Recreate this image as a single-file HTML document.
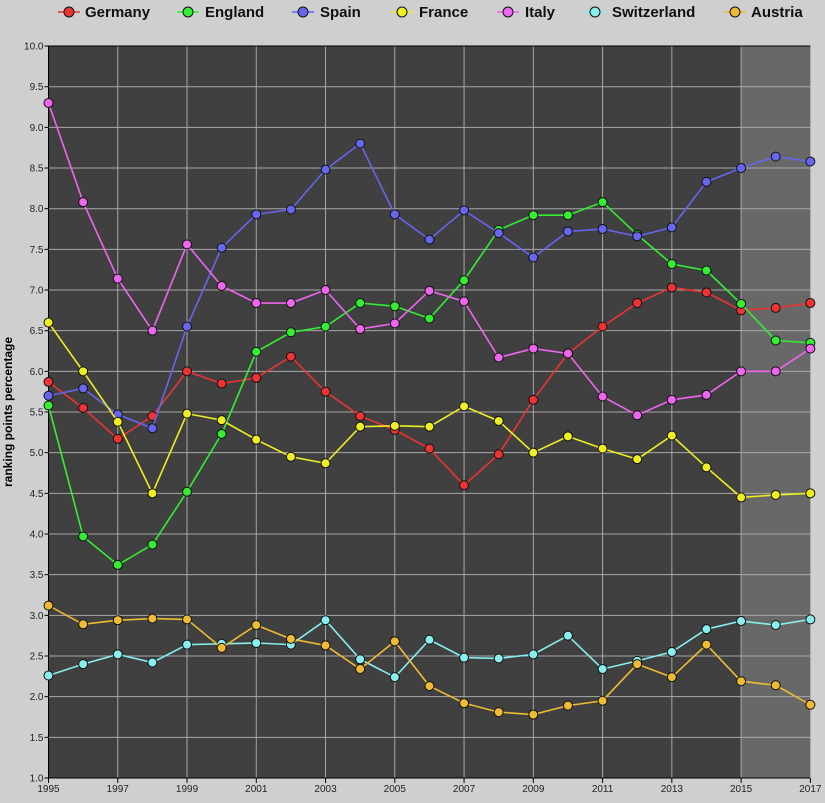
<!DOCTYPE html>
<html><head><meta charset="utf-8"><style>
html,body{margin:0;padding:0;background:#cfcfcf;}
svg{display:block;font-family:"Liberation Sans",sans-serif;}
</style></head><body>
<svg id="c" width="825" height="803" xmlns="http://www.w3.org/2000/svg"></svg>
<script>
const s=document.getElementById('c');
const X0=48.5,DX=34.63,YB=778,DY=81.33;
const xp=i=>X0+i*DX, yp=v=>YB-(v-1)*DY;
let h='';
h+=`<rect x="${X0}" y="46" width="${xp(20)-X0}" height="${YB-46}" fill="#404040"/>`;
h+=`<rect x="${xp(20)}" y="46" width="${xp(22)-xp(20)}" height="${YB-46}" fill="#686868"/>`;
for(let v=1.5;v<=10.01;v+=0.5){h+=`<line x1="${X0}" x2="${xp(22)}" y1="${yp(v)}" y2="${yp(v)}" stroke="#a8a8a8" stroke-width="1"/>`;}
for(let i=2;i<=20;i+=2){h+=`<line x1="${xp(i)}" x2="${xp(i)}" y1="46" y2="${YB}" stroke="#a8a8a8" stroke-width="1"/>`;}
h+=`<line x1="${X0}" x2="${X0}" y1="46" y2="${YB}" stroke="#000"/>`;
h+=`<line x1="${X0}" x2="${xp(22)}" y1="${YB}" y2="${YB}" stroke="#000"/>`;
h+=`<line x1="${X0}" x2="${xp(22)}" y1="46" y2="46" stroke="#000"/>`;
for(let v=1;v<=10.01;v+=0.5){h+=`<line x1="${X0-4}" x2="${X0}" y1="${yp(v)}" y2="${yp(v)}" stroke="#000"/><text x="${X0-5}" y="${yp(v)+3.5}" font-size="10" text-anchor="end" fill="#222">${v.toFixed(1)}</text>`;}
for(let i=0;i<=22;i+=2){h+=`<line x1="${xp(i)}" x2="${xp(i)}" y1="${YB}" y2="${YB+5}" stroke="#000"/><text x="${xp(i)}" y="${YB+14}" font-size="10" text-anchor="middle" fill="#222">${1995+i}</text>`;}
h+=`<text transform="translate(12,412) rotate(-90)" font-size="12" font-weight="bold" text-anchor="middle" fill="#000">ranking points percentage</text>`;
const D=[
["Germany","#ee3333",[5.87,5.55,5.17,5.45,6.0,5.85,5.92,6.18,5.75,5.45,5.28,5.05,4.6,4.98,5.65,6.22,6.55,6.84,7.03,6.97,6.75,6.78,6.84],69,85],
["England","#33ee33",[5.58,3.97,3.62,3.87,4.52,5.23,6.24,6.48,6.55,6.84,6.8,6.65,7.12,7.74,7.92,7.92,8.08,7.68,7.32,7.24,6.83,6.38,6.35],188,205],
["Spain","#6666ee",[5.7,5.79,5.47,5.3,6.55,7.52,7.93,7.99,8.48,8.8,7.93,7.62,7.98,7.7,7.4,7.72,7.75,7.66,7.77,8.33,8.5,8.64,8.58],303,320],
["France","#eeee22",[6.6,6.0,5.38,4.5,5.48,5.4,5.16,4.95,4.87,5.32,5.33,5.32,5.57,5.39,5.0,5.2,5.05,4.92,5.21,4.82,4.45,4.48,4.5],402,419],
["Italy","#ee66ee",[9.3,8.08,7.14,6.5,7.56,7.05,6.84,6.84,7.0,6.52,6.59,6.99,6.86,6.17,6.28,6.22,5.69,5.46,5.65,5.71,6.0,6.0,6.28],508,525],
["Switzerland","#88eeee",[2.26,2.4,2.52,2.42,2.64,2.65,2.66,2.64,2.94,2.46,2.24,2.7,2.48,2.47,2.52,2.75,2.34,2.44,2.55,2.83,2.93,2.88,2.95],595,612],
["Austria","#eebb33",[3.12,2.89,2.94,2.96,2.95,2.6,2.88,2.71,2.63,2.34,2.68,2.13,1.92,1.81,1.78,1.89,1.95,2.4,2.24,2.64,2.19,2.14,1.9],735,751]];
for(const [n,c,v,mx,tx] of D){
 h+=`<polyline fill="none" stroke="${c}" stroke-width="1.6" points="${v.map((a,i)=>xp(i)+','+yp(a)).join(' ')}"/>`;
 v.forEach((a,i)=>{h+=`<circle cx="${xp(i)}" cy="${yp(a)}" r="4.5" fill="${c}" stroke="#111" stroke-width="1"/>`;});
 h+=`<line x1="${mx-11}" x2="${mx+11}" y1="12" y2="12" stroke="${c}" stroke-width="1.6"/><circle cx="${mx}" cy="12" r="5" fill="${c}" stroke="#111"/>`;
 h+=`<text x="${tx}" y="17" font-size="15" font-weight="bold" fill="#111">${n}</text>`;
}
s.innerHTML=h;
</script>
</body></html>
